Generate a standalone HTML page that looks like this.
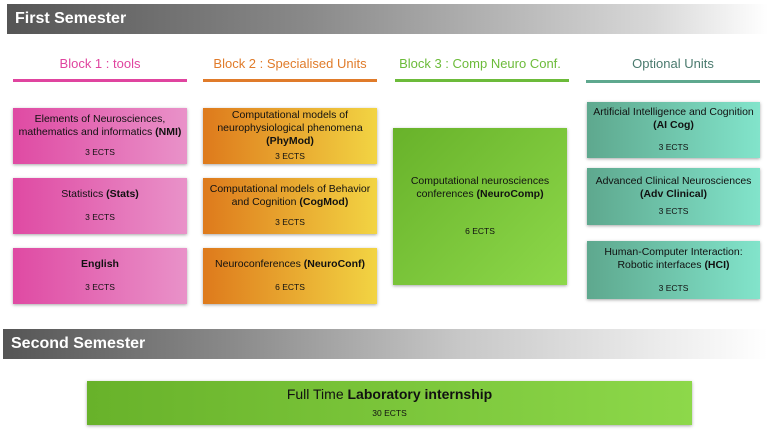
<!DOCTYPE html>
<html><head><meta charset="utf-8"><style>
*{margin:0;padding:0;box-sizing:border-box}
body{width:768px;height:434px;background:#fff;position:relative;overflow:hidden;font-family:"Liberation Sans",sans-serif;}
.bar{position:absolute;height:30px;color:#fff;font-weight:bold;font-size:16px;padding-left:8px;line-height:30px;}
.hd{position:absolute;text-align:center;font-size:13px;}
.ln{position:absolute;height:3px;}
.b{position:absolute;display:flex;flex-direction:column;justify-content:center;align-items:center;text-align:center;font-size:10.5px;line-height:13px;color:#111;box-shadow:0 1px 3px rgba(0,0,0,.35);}
.b .e{font-size:8.5px;margin-top:7px}
.pk{background:linear-gradient(90deg,#df4aa3,#e992c9)}
.or{background:linear-gradient(90deg,#de7a1c,#f2d443)}
.gr{background:linear-gradient(135deg,#68b22a,#8dd84a)}
.tl{background:linear-gradient(90deg,#5ea88e,#82e4cb)}
</style></head><body>
<div class="bar" style="left:7px;top:4px;width:761px;background:linear-gradient(90deg,#555,#8a8a8a 40%,#d8d8d8 85%,#fff)">First Semester</div>
<div class="hd" style="left:13px;top:56px;width:174px;color:#e0449f">Block 1 : tools</div>
<div class="hd" style="left:203px;top:56px;width:174px;color:#e07b2a">Block 2 : Specialised Units</div>
<div class="hd" style="left:393px;top:56px;width:174px;color:#6cbb3a">Block 3 : Comp Neuro Conf.</div>
<div class="hd" style="left:586px;top:56px;width:174px;color:#4a7a6e">Optional Units</div>
<div class="ln" style="left:13px;top:79px;width:174px;background:#e0449f"></div>
<div class="ln" style="left:203px;top:79px;width:174px;background:#e07b2a"></div>
<div class="ln" style="left:395px;top:79px;width:174px;background:#6cbb3a"></div>
<div class="ln" style="left:586px;top:80px;width:174px;background:#5ea88e"></div>

<div class="b pk" style="left:13px;top:108px;width:174px;height:56px"><div>Elements of Neurosciences,<br>mathematics and informatics <b>(NMI)</b></div><div class="e">3 ECTS</div></div>
<div class="b pk" style="left:13px;top:178px;width:174px;height:56px"><div>Statistics <b>(Stats)</b></div><div class="e" style="margin-top:10px">3 ECTS</div></div>
<div class="b pk" style="left:13px;top:248px;width:174px;height:56px"><div><b>English</b></div><div class="e" style="margin-top:10px">3 ECTS</div></div>

<div class="b or" style="left:203px;top:108px;width:174px;height:56px"><div>Computational models of<br>neurophysiological phenomena<br><b>(PhyMod)</b></div><div class="e" style="margin-top:2px">3 ECTS</div></div>
<div class="b or" style="left:203px;top:178px;width:174px;height:56px"><div>Computational models of Behavior<br>and Cognition <b>(CogMod)</b></div><div class="e">3 ECTS</div></div>
<div class="b or" style="left:203px;top:248px;width:174px;height:56px"><div>Neuroconferences <b>(NeuroConf)</b></div><div class="e" style="margin-top:10px">6 ECTS</div></div>

<div class="b gr" style="left:393px;top:128px;width:174px;height:157px"><div>Computational neurosciences<br>conferences <b>(NeuroComp)</b></div><div class="e" style="margin-top:24px">6 ECTS</div></div>

<div class="b tl" style="left:587px;top:102px;width:173px;height:56px"><div>Artificial Intelligence and Cognition<br><b>(AI Cog)</b></div><div class="e" style="margin-top:9px">3 ECTS</div></div>
<div class="b tl" style="left:587px;top:168px;width:173px;height:57px"><div>Advanced Clinical Neurosciences<br><b>(Adv Clinical)</b></div><div class="e" style="margin-top:4px">3 ECTS</div></div>
<div class="b tl" style="left:587px;top:241px;width:173px;height:58px"><div>Human-Computer Interaction:<br>Robotic interfaces <b>(HCI)</b></div><div class="e" style="margin-top:10px">3 ECTS</div></div>

<div class="bar" style="left:3px;top:329px;width:765px;background:linear-gradient(90deg,#555,#8a8a8a 30%,#c8c8c8 60%,#fff)">Second Semester</div>
<div class="b gr" style="left:87px;top:381px;width:605px;height:44px;background:linear-gradient(90deg,#68b22a,#8dd84a)"><div style="font-size:14px;line-height:17px">Full Time <b>Laboratory internship</b></div><div class="e" style="margin-top:4px">30 ECTS</div></div>
</body></html>
